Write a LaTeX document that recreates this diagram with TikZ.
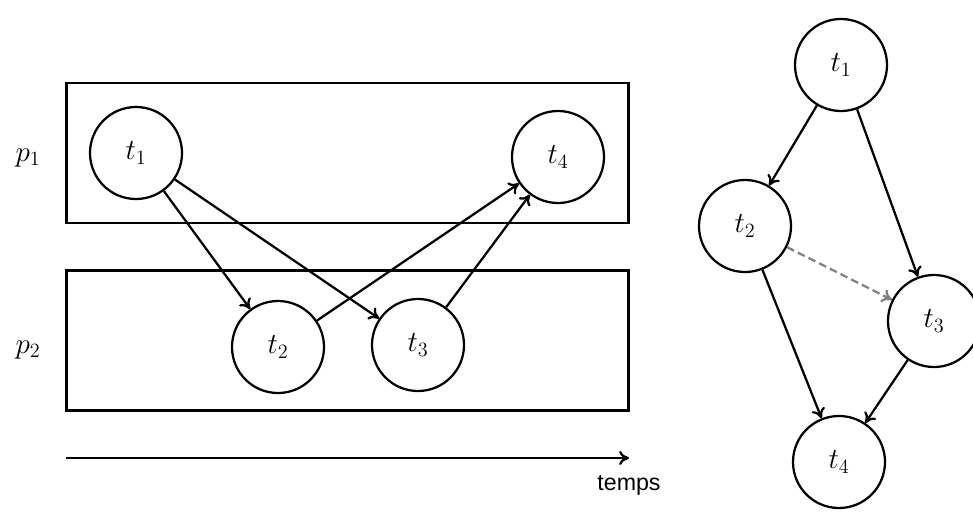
\documentclass[tikz,border=0pt]{standalone}
\usepackage{fontspec}
\newfontfamily\helv{Liberation Sans}
\usetikzlibrary{arrows.meta}
\begin{document}
\begin{tikzpicture}[x=0.025cm,y=-0.025cm,
  task/.style={circle,draw,line width=1.6pt,minimum size=2.3cm,inner sep=0pt,font=\fontsize{21}{25}\selectfont},
  lane/.style={draw,line width=1.6pt},
  arr/.style={-{To[length=7pt,width=10pt,line width=1.6pt]},line width=1.6pt},
  lbl/.style={font=\fontsize{21}{25}\selectfont}]
\useasboundingbox (0,0) rectangle (973,527);
\node[lane,minimum width=14.05cm,minimum height=3.5cm,inner sep=0pt] (r1) at (347.5,153) {};
\node[lane,minimum width=14.05cm,minimum height=3.5cm,inner sep=0pt] (r2) at (347.5,340.5) {};
\node[lbl] (p1) at (28,158) {$p_1$};
\node[lbl] (p2) at (28,350) {$p_2$};
\node[task] (a1) at (136,153) {$t_1$};
\node[task] (a4) at (558,157) {$t_4$};
\node[task] (a2) at (278,347) {$t_2$};
\node[task] (a3) at (418,345) {$t_3$};
\draw[arr] (a1) -- (a2);
\draw[arr] (a1) -- (a3);
\draw[arr] (a2) -- (a4);
\draw[arr] (a3) -- (a4);
\coordinate (ts) at (66,458);
\coordinate (te) at (629,458);
\draw[arr] (ts) -- (te);
\node[font=\helv\fontsize{16.5}{19}\selectfont] (temps) at (629,485) {temps};
\node[task] (b1) at (841,65) {$t_1$};
\node[task] (b2) at (745,226) {$t_2$};
\node[task] (b3) at (934,321) {$t_3$};
\node[task] (b4) at (839,462) {$t_4$};
\draw[arr] (b1) -- (b2);
\draw[arr] (b1) -- (b3);
\draw[arr] (b2) -- (b4);
\draw[arr] (b3) -- (b4);
\draw[arr,gray,dash pattern=on 5.5pt off 3pt] (b2) -- (b3);
\end{tikzpicture}
\end{document}
